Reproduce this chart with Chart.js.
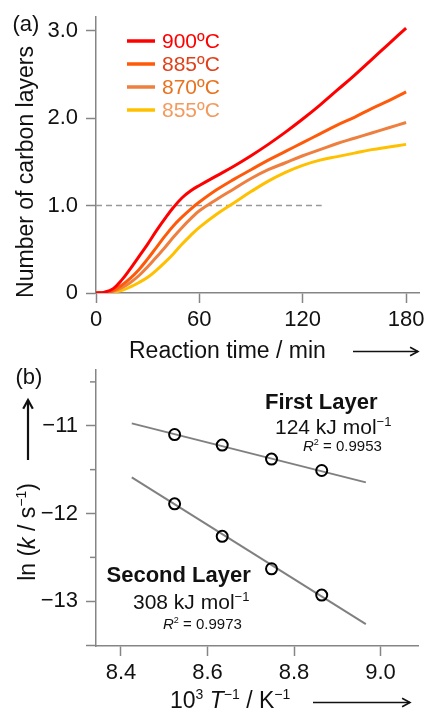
<!DOCTYPE html>
<html><head><meta charset="utf-8">
<script src="https://cdn.jsdelivr.net/npm/chart.js@4/dist/chart.umd.min.js"></script>
<style>html,body{margin:0;padding:0;background:#fff;overflow:hidden;width:426px;height:709px}
canvas{position:absolute;left:0;top:0}</style></head>
<body>
<canvas id="ca" width="426" height="709"></canvas>
<canvas id="cb" width="426" height="709"></canvas>
<script>
const FONT = '"Liberation Sans", Arial, sans-serif';
// ---------- Panel (a) data ----------
const timeMin   = [0, 5, 10, 15, 20, 25, 30, 35, 40, 45, 50, 55, 60, 70, 80, 90, 100, 110, 120, 130, 140, 150, 160, 170, 180];
const layers900 = [0, 0.01, 0.05, 0.15, 0.28, 0.42, 0.56, 0.71, 0.85, 0.98, 1.09, 1.17, 1.23, 1.34, 1.45, 1.57, 1.70, 1.84, 1.99, 2.15, 2.32, 2.49, 2.67, 2.85, 3.03];
const layers885 = [0, 0.00, 0.03, 0.09, 0.17, 0.27, 0.39, 0.52, 0.65, 0.77, 0.87, 0.96, 1.04, 1.18, 1.30, 1.41, 1.52, 1.62, 1.72, 1.82, 1.92, 2.01, 2.11, 2.20, 2.30];
const layers870 = [0, 0.00, 0.02, 0.06, 0.12, 0.20, 0.30, 0.41, 0.52, 0.64, 0.75, 0.85, 0.94, 1.07, 1.19, 1.31, 1.41, 1.49, 1.57, 1.64, 1.71, 1.77, 1.83, 1.89, 1.95];
const layers855 = [0, 0.00, 0.01, 0.03, 0.07, 0.12, 0.18, 0.26, 0.35, 0.45, 0.56, 0.66, 0.75, 0.90, 1.03, 1.16, 1.28, 1.38, 1.46, 1.52, 1.56, 1.60, 1.64, 1.67, 1.70];
const seriesNames = ['900ºC', '885ºC', '870ºC', '855ºC'];
const xTicksA = [0, 60, 120, 180];
const yTicksA = [0, 1, 2, 3];
const yLabelsA = ['0', '1.0', '2.0', '3.0'];
const dashTime = [0, 131];
const dashLevel = [1, 1];
// ---------- Panel (b) data ----------
const invT      = [8.524, 8.634, 8.748, 8.864];
const lnkFirst  = [-11.10, -11.22, -11.38, -11.51];
const lnkSecond = [-11.89, -12.26, -12.63, -12.93];
const fitX      = [8.425, 8.966];
const fitFirst  = [-10.973, -11.645];
const fitSecond = [-11.588, -13.261];
const xTicksB = [8.4, 8.6, 8.8, 9.0];
const xLabelsB = ['8.4', '8.6', '8.8', '9.0'];
const yTicksB = [-13.5, -13, -12, -11];
const yLabelsB = ['', '\u221213', '\u221212', '\u221211'];
const yMinorB = [-12.5, -11.5, -10.5];

const lineColors = ['#ff0000', '#ff5a0a', '#ee7f3f', '#ffc000'];
const textColors = ['#ff0000', '#e0401a', '#e8721e', '#f39a5e'];
const AXIS = '#858585';

function rich(ctx, x, y, parts, size) {
  let cx = x;
  for (const [t, st] of parts) {
    const sup = st.includes('s');
    const fs = sup ? Math.round(size * 0.62) : size;
    ctx.font = (st.includes('i') ? 'italic ' : '') + (st.includes('b') ? 'bold ' : '') + fs + 'px ' + FONT;
    ctx.fillText(t, cx, sup ? y - size * 0.38 : y);
    cx += ctx.measureText(t).width;
  }
  return cx - x;
}
function richWidth(ctx, parts, size) {
  let w = 0;
  for (const [t, st] of parts) {
    const sup = st.includes('s');
    const fs = sup ? Math.round(size * 0.62) : size;
    ctx.font = (st.includes('i') ? 'italic ' : '') + (st.includes('b') ? 'bold ' : '') + fs + 'px ' + FONT;
    w += ctx.measureText(t).width;
  }
  return w;
}
function arrow(ctx, x1, y1, x2, y2, lw, head) {
  const a = Math.atan2(y2 - y1, x2 - x1);
  ctx.save();
  ctx.strokeStyle = '#111'; ctx.lineWidth = lw; ctx.lineCap = 'butt';
  ctx.beginPath(); ctx.moveTo(x1, y1); ctx.lineTo(x2, y2); ctx.stroke();
  ctx.beginPath();
  ctx.moveTo(x2 - head * Math.cos(a - 0.5), y2 - head * Math.sin(a - 0.5));
  ctx.lineTo(x2, y2);
  ctx.lineTo(x2 - head * Math.cos(a + 0.5), y2 - head * Math.sin(a + 0.5));
  ctx.stroke();
  ctx.restore();
}
function zeroPad(s) { s.paddingLeft = 0; s.paddingRight = 0; s.paddingTop = 0; s.paddingBottom = 0; }

const decorA = {
  id: 'decorA',
  afterDraw(chart) {
    const ctx = chart.ctx;
    ctx.save();
    ctx.fillStyle = '#111'; ctx.textAlign = 'left'; ctx.textBaseline = 'alphabetic';
    ctx.font = '22px ' + FONT;
    ctx.fillText('(a)', 12.5, 31);
    ctx.save();
    ctx.translate(33, 172); ctx.rotate(-Math.PI / 2);
    ctx.textAlign = 'center'; ctx.font = '23px ' + FONT;
    ctx.fillText('Number of carbon layers', 0, 0);
    ctx.restore();
    ctx.font = '23px ' + FONT;
    ctx.fillText('Reaction time / min', 129, 358);
    arrow(ctx, 353, 351.5, 418, 351.5, 1.6, 9);
    const ly = [41, 64, 87, 110];
    seriesNames.forEach((n, i) => {
      ctx.strokeStyle = lineColors[i]; ctx.lineWidth = 3.5;
      ctx.beginPath(); ctx.moveTo(127, ly[i]); ctx.lineTo(155, ly[i]); ctx.stroke();
      ctx.fillStyle = textColors[i]; ctx.font = '21px ' + FONT; ctx.textBaseline = 'middle';
      ctx.fillText(n, 162, ly[i] + 1);
    });
    ctx.restore();
  }
};

const seriesA = [layers900, layers885, layers870, layers855];
new Chart(document.getElementById('ca'), {
  type: 'line',
  data: {
    datasets: [
      ...seriesA.map((s, i) => ({
        label: seriesNames[i],
        data: timeMin.map((t, j) => ({ x: t, y: s[j] })),
        borderColor: lineColors[i], borderWidth: 3, pointRadius: 0,
        tension: 0.4, fill: false, order: i
      })),
      { label: 'dash', data: dashTime.map((t, j) => ({ x: t, y: dashLevel[j] })),
        borderColor: '#999', borderWidth: 1.5, borderDash: [6, 4], pointRadius: 0, order: 10 }
    ]
  },
  options: {
    responsive: false, animation: false, devicePixelRatio: 1,
    layout: { padding: { left: 0, right: 7, top: 17, bottom: 709 - 293 - 40 } },
    plugins: { legend: { display: false }, tooltip: { enabled: false } },
    scales: {
      x: {
        type: 'linear', min: 0, max: 187.5,
        afterBuildTicks: a => { a.ticks = xTicksA.map(v => ({ value: v })); },
        afterFit: s => { s.height = 40; zeroPad(s); },
        ticks: { font: { size: 22, family: FONT }, color: '#111', padding: 4, maxRotation: 0, autoSkip: false,
                 callback: (v, i) => String(xTicksA[i]) },
        grid: { drawOnChartArea: false, drawTicks: true, tickLength: 10, color: AXIS, tickWidth: 1.5 },
        border: { display: true, color: AXIS, width: 1.5 }
      },
      y: {
        type: 'linear', min: 0, max: 3.157,
        afterBuildTicks: a => { a.ticks = yTicksA.map(v => ({ value: v })); },
        afterFit: s => { s.width = 96; zeroPad(s); },
        ticks: { font: { size: 22, family: FONT }, color: '#111', padding: 8, autoSkip: false,
                 callback: (v, i) => yLabelsA[i] },
        grid: { drawOnChartArea: false, drawTicks: true, tickLength: 10, color: AXIS, tickWidth: 1.5 },
        border: { display: true, color: AXIS, width: 1.5 }
      }
    }
  },
  plugins: [decorA]
});

const decorB = {
  id: 'decorB',
  afterDraw(chart) {
    const ctx = chart.ctx;
    const ys = chart.scales.y;
    ctx.save();
    ctx.strokeStyle = AXIS; ctx.lineWidth = 1.5;
    yMinorB.forEach(v => {
      const p = ys.getPixelForValue(v);
      ctx.beginPath(); ctx.moveTo(ys.right - 6, p); ctx.lineTo(ys.right, p); ctx.stroke();
    });
    ctx.fillStyle = '#111'; ctx.textAlign = 'left'; ctx.textBaseline = 'alphabetic';
    ctx.font = '22px ' + FONT;
    ctx.fillText('(b)', 15.5, 384);
    const yt = [['ln (', ''], ['k', 'i'], [' / s', ''], ['\u22121', 's'], [')', '']];
    ctx.save();
    ctx.translate(35, 532); ctx.rotate(-Math.PI / 2);
    const w = richWidth(ctx, yt, 23);
    rich(ctx, -w / 2, 0, yt, 23);
    ctx.restore();
    arrow(ctx, 28, 460, 28, 400, 2.2, 10);
    rich(ctx, 170, 708, [['10', ''], ['3', 's'], [' ', ''], ['T', 'i'], ['\u22121', 's'], [' / K', ''], ['\u22121', 's']], 23);
    arrow(ctx, 313, 702.5, 410, 702.5, 1.6, 9);
    rich(ctx, 265, 409, [['First Layer', 'b']], 22);
    rich(ctx, 275, 434, [['124 kJ mol', ''], ['\u22121', 's']], 21);
    rich(ctx, 303, 450.5, [['R', 'i'], ['2', 's'], [' = 0.9953', '']], 15);
    rich(ctx, 106.5, 581.5, [['Second Layer', 'b']], 22);
    rich(ctx, 133, 609, [['308 kJ mol', ''], ['\u22121', 's']], 21);
    rich(ctx, 163, 629, [['R', 'i'], ['2', 's'], [' = 0.9973', '']], 15);
    ctx.restore();
  }
};

new Chart(document.getElementById('cb'), {
  type: 'scatter',
  data: {
    datasets: [
      { label: 'First', data: invT.map((x, j) => ({ x, y: lnkFirst[j] })), pointRadius: 5.5, pointBorderWidth: 2,
        pointBorderColor: '#000', pointBackgroundColor: 'rgba(255,255,255,0)', showLine: false, order: 0 },
      { label: 'Second', data: invT.map((x, j) => ({ x, y: lnkSecond[j] })), pointRadius: 5.5, pointBorderWidth: 2,
        pointBorderColor: '#000', pointBackgroundColor: 'rgba(255,255,255,0)', showLine: false, order: 0 },
      { label: 'FitFirst', type: 'line', data: fitX.map((x, j) => ({ x, y: fitFirst[j] })), borderColor: '#808080',
        borderWidth: 2, pointRadius: 0, order: 5 },
      { label: 'FitSecond', type: 'line', data: fitX.map((x, j) => ({ x, y: fitSecond[j] })), borderColor: '#808080',
        borderWidth: 2, pointRadius: 0, order: 5 }
    ]
  },
  options: {
    responsive: false, animation: false, devicePixelRatio: 1,
    layout: { padding: { left: 0, right: 7, top: 370, bottom: 709 - 646 - 40 } },
    plugins: { legend: { display: false }, tooltip: { enabled: false } },
    scales: {
      x: {
        type: 'linear', min: 8.3423, max: 9.0877,
        afterBuildTicks: a => { a.ticks = xTicksB.map(v => ({ value: v })); },
        afterFit: s => { s.height = 40; zeroPad(s); },
        ticks: { font: { size: 22, family: FONT }, color: '#111', padding: 4, maxRotation: 0, autoSkip: false,
                 callback: (v, i) => xLabelsB[i] },
        grid: { drawOnChartArea: false, drawTicks: true, tickLength: 10, color: AXIS, tickWidth: 1.5 },
        border: { display: true, color: AXIS, width: 1.5 }
      },
      y: {
        type: 'linear', min: -13.51, max: -10.3645,
        afterBuildTicks: a => { a.ticks = yTicksB.map(v => ({ value: v })); },
        afterFit: s => { s.width = 96; zeroPad(s); },
        ticks: { font: { size: 22, family: FONT }, color: '#111', padding: 8, autoSkip: false,
                 callback: (v, i) => yLabelsB[i] },
        grid: { drawOnChartArea: false, drawTicks: true, tickLength: 10, color: AXIS, tickWidth: 1.5 },
        border: { display: true, color: AXIS, width: 1.5 }
      }
    }
  },
  plugins: [decorB]
});
</script>
</body></html>
